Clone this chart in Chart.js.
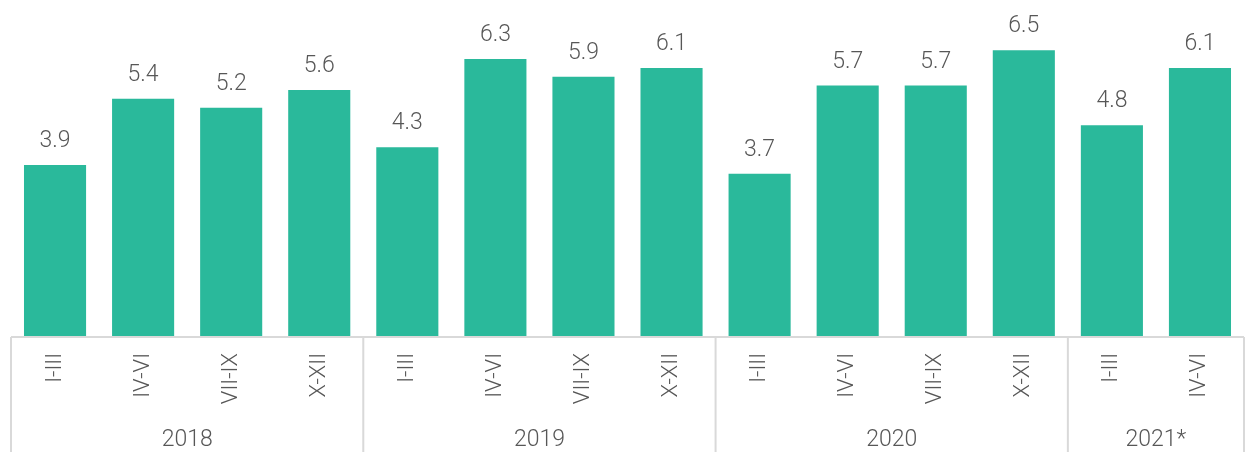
<!DOCTYPE html>
<html>
<head>
<meta charset="utf-8">
<script src="https://cdn.jsdelivr.net/npm/chart.js@4"></script>
<style>
  html, body { margin: 0; padding: 0; background: #fff; }
  #wrap { width: 1246px; height: 452px; position: relative; }
</style>
</head>
<body>
<div id="wrap"><canvas id="myChart"></canvas></div>
<script>
// quarters and values
const quarters = ['I-III','IV-VI','VII-IX','X-XII','I-III','IV-VI','VII-IX','X-XII','I-III','IV-VI','VII-IX','X-XII','I-III','IV-VI'];
const values = [3.9, 5.4, 5.2, 5.6, 4.3, 6.3, 5.9, 6.1, 3.7, 5.7, 5.7, 6.5, 4.8, 6.1];
const years = ['2018', '2019', '2020', '2021*'];
const yearSizes = [4, 4, 4, 2];

const barColor = '#2ab99b';
const textColor = '#575757';
const lineColor = '#d9d9d9';

// draws value labels, year labels and the group separators
const groupPlugin = {
    id: 'groups',
    afterDatasetsDraw(chart) {
        const ctx = chart.ctx;
        const meta = chart.getDatasetMeta(0);
        ctx.save();
        ctx.font = '300 23px Roboto';
        ctx.fillStyle = textColor;
        ctx.textAlign = 'center';
        ctx.textBaseline = 'alphabetic';
        meta.data.forEach(function (bar, i) {
            ctx.fillText(values[i].toFixed(1), bar.x, bar.y - 18);
        });
        ctx.restore();
    },
    afterDraw(chart) {
        const ctx = chart.ctx;
        const x = chart.scales.x;
        const base = chart.chartArea.bottom;
        const step = x.getPixelForValue(1) - x.getPixelForValue(0);
        const left = x.getPixelForValue(0) - step / 2;
        const right = x.getPixelForValue(quarters.length - 1) + step / 2;
        ctx.save();
        ctx.strokeStyle = lineColor;
        ctx.lineWidth = 2;
        ctx.beginPath();
        ctx.moveTo(left, base);
        ctx.lineTo(right, base);
        let idx = 0;
        let edges = [left];
        yearSizes.forEach(function (n) {
            idx += n;
            edges.push(x.getPixelForValue(idx - 1) + step / 2);
        });
        edges.forEach(function (e) {
            ctx.moveTo(e, base);
            ctx.lineTo(e, chart.height);
        });
        ctx.stroke();

        ctx.font = '300 23px Roboto';
        ctx.fillStyle = textColor;
        ctx.textAlign = 'center';
        ctx.textBaseline = 'middle';
        years.forEach(function (y, i) {
            ctx.fillText(y, (edges[i] + edges[i + 1]) / 2, 440);
        });
        ctx.restore();
    }
};

const ctx = document.getElementById('myChart').getContext('2d');
const barChart = new Chart(ctx, {
    type: 'bar',
    data: {
        labels: quarters,
        datasets: [{
            data: values,
            backgroundColor: barColor,
            barPercentage: 0.705,
            categoryPercentage: 1
        }]
    },
    options: {
        responsive: true,
        maintainAspectRatio: false,
        animation: false,
        events: [],
        layout: { padding: { left: 11, right: 2, top: 0, bottom: 0 } },
        plugins: {
            legend: { display: false },
            tooltip: { enabled: false }
        },
        scales: {
            x: {
                grid: { display: false, drawTicks: false },
                border: { display: false },
                ticks: {
                    minRotation: 90,
                    maxRotation: 90,
                    padding: 16,
                    color: textColor,
                    font: { family: 'Roboto', size: 22, weight: '300' }
                },
                afterFit(scale) { scale.height = 115; }
            },
            y: {
                display: false,
                min: 0,
                max: 7.64
            }
        }
    },
    plugins: [groupPlugin]
});
</script>
</body>
</html>
